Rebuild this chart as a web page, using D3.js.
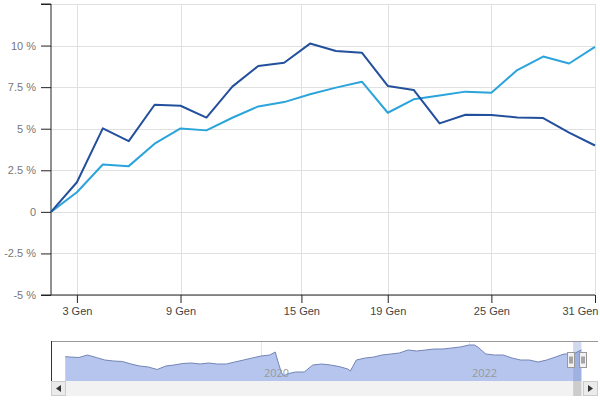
<!DOCTYPE html>
<html>
<head>
<meta charset="utf-8">
<script src="https://cdn.jsdelivr.net/npm/d3@7"></script>
<style>
  body { margin: 0; background: #fff; }
  svg { font-family: "Open Sans", "DejaVu Sans", sans-serif; }
</style>
</head>
<body>
<div class="container"></div>
<script>
const WIDTH = 600;
const HEIGHT = 400;

// trading days, January 2023
var days = ["2023-01-02", "2023-01-03", "2023-01-04", "2023-01-05", "2023-01-06",
  "2023-01-09", "2023-01-10", "2023-01-11", "2023-01-12", "2023-01-13",
  "2023-01-16", "2023-01-17", "2023-01-18", "2023-01-19", "2023-01-20",
  "2023-01-23", "2023-01-24", "2023-01-25", "2023-01-26", "2023-01-27",
  "2023-01-30", "2023-01-31"];
var darkSeries = [0, 1.78, 5.02, 4.25, 6.44, 6.38, 5.67, 7.53, 8.77, 8.97,
  10.12, 9.67, 9.57, 7.57, 7.33, 5.32, 5.84, 5.82, 5.68, 5.64, 4.76, 3.99];
var lightSeries = [0, 1.18, 2.85, 2.75, 4.1, 5.02, 4.9, 5.66, 6.34, 6.6,
  7.07, 7.47, 7.83, 5.96, 6.77, 7.0, 7.23, 7.17, 8.53, 9.34, 8.92, 9.92];
var xTicks = ["2023-01-03", "2023-01-09", "2023-01-15", "2023-01-19", "2023-01-25", "2023-01-31"];
var yTicks = [-5, -2.5, 0, 2.5, 5, 7.5, 10, 12.5];

// navigator history
var navDates = ["2018-02-12", "2018-03-01", "2018-04-01", "2018-05-01", "2018-06-01",
  "2018-07-01", "2018-08-01", "2018-09-01", "2018-10-01", "2018-11-01", "2018-12-01",
  "2019-01-01", "2019-02-01", "2019-03-01", "2019-04-01", "2019-05-01", "2019-06-01",
  "2019-07-01", "2019-08-01", "2019-09-01", "2019-10-01", "2019-11-01", "2019-12-01",
  "2020-01-01", "2020-02-01", "2020-02-20", "2020-03-01", "2020-03-12", "2020-03-20",
  "2020-04-01", "2020-05-01", "2020-06-01", "2020-07-01", "2020-08-01", "2020-09-01",
  "2020-10-01", "2020-11-01", "2020-11-10", "2020-12-01", "2021-01-01", "2021-02-01",
  "2021-03-01", "2021-04-01", "2021-05-01", "2021-06-01", "2021-07-01", "2021-08-01",
  "2021-09-01", "2021-10-01", "2021-11-01", "2021-12-01", "2022-01-01", "2022-01-20",
  "2022-02-01", "2022-03-01", "2022-04-01", "2022-05-01", "2022-06-01", "2022-07-01",
  "2022-08-01", "2022-09-01", "2022-10-01", "2022-11-01", "2022-12-01", "2023-01-02",
  "2023-01-31"];
var navValues = [24.3, 24, 23.5, 26, 23.5, 21, 20, 19.5, 17, 15, 14,
  11.5, 15, 16, 17.5, 18, 17, 18, 17, 17, 19, 21, 23,
  25, 26, 29, 19, 9, 5, 7, 9, 9, 16, 17, 16,
  14.5, 12, 10, 21, 23, 24, 26, 27, 28, 31, 30, 31,
  32, 32, 33, 34, 36, 36, 34, 27, 26, 26, 23, 21,
  21, 19, 21, 24, 27, 27, 31];
var navYears = ["2020-01-01", "2022-01-01"];

var parse = d3.timeParse("%Y-%m-%d");
var itFormat = d3.timeFormatLocale({
  dateTime: "%A %e %B %Y, %X", date: "%d/%m/%Y", time: "%H:%M:%S",
  periods: ["AM", "PM"],
  days: ["Domenica", "Lunedì", "Martedì", "Mercoledì", "Giovedì", "Venerdì", "Sabato"],
  shortDays: ["Dom", "Lun", "Mar", "Mer", "Gio", "Ven", "Sab"],
  months: ["Gennaio", "Febbraio", "Marzo", "Aprile", "Maggio", "Giugno", "Luglio",
    "Agosto", "Settembre", "Ottobre", "Novembre", "Dicembre"],
  shortMonths: ["Gen", "Feb", "Mar", "Apr", "Mag", "Giu", "Lug", "Ago", "Set", "Ott", "Nov", "Dic"]
}).format("%-d %b");

var translate = function(x, y) {
  return `translate(${x},${y})`;
};

var svg = d3.select('.container').append('svg')
  .attr('width', WIDTH)
  .attr('height', HEIGHT);

// ---- main chart ----
var plotLeft = 51, plotRight = 595, plotTop = 4, plotBottom = 295;
var step = (plotRight - plotLeft) / (days.length - 1);

// ordinal-style time axis: each trading day gets an equal slot
var xScale = d3.scaleTime()
  .domain(days.map(parse))
  .range(days.map((d, i) => plotLeft + i * step))
  .clamp(true);
var yScale = d3.scaleLinear().domain([-5, 12.5]).range([plotBottom, plotTop]);

var grid = svg.append('g').attr('stroke', '#e0e0e0').attr('stroke-width', 1);
grid.selectAll('.hg').data(yTicks).enter().append('line')
  .attr('x1', plotLeft).attr('x2', plotRight)
  .attr('y1', d => Math.round(yScale(d)) + 0.5).attr('y2', d => Math.round(yScale(d)) + 0.5);
grid.selectAll('.vg').data(xTicks).enter().append('line')
  .attr('x1', d => Math.round(xScale(parse(d))) + 0.5).attr('x2', d => Math.round(xScale(parse(d))) + 0.5)
  .attr('y1', plotTop).attr('y2', plotBottom);

var yAxis = d3.axisLeft(yScale).tickValues(yTicks).tickSize(10).tickPadding(4)
  .tickFormat(d => d === 12.5 ? "" : (d === 0 ? "0" : String(d) + " %"));
var yg = svg.append('g').attr('transform', translate(plotLeft, 0)).call(yAxis);
yg.select('.domain').attr('stroke', '#222').attr('d', `M-10,${plotTop}H0V${plotBottom}`);
yg.selectAll('.tick line').attr('stroke', '#222');
yg.selectAll('.tick text').attr('fill', '#777').attr('font-size', 11).attr('dx', -1);

var xAxis = d3.axisBottom(xScale).tickValues(xTicks.map(parse)).tickSize(8).tickPadding(4)
  .tickFormat(itFormat);
var xg = svg.append('g').attr('transform', translate(0, plotBottom)).call(xAxis);
xg.select('.domain').attr('stroke', '#222').attr('d', `M${plotLeft - 10},0H${plotRight}`);
xg.selectAll('.tick line').attr('stroke', '#222');
xg.selectAll('.tick text').attr('fill', '#444').attr('font-size', 11);
xg.selectAll('.tick').filter((d, i) => i === xTicks.length - 1).select('text').attr('text-anchor', 'end').attr('dx', 3);

var line = function(values) {
  return d3.line()
    .x((d, i) => xScale(parse(days[i])))
    .y(d => yScale(d))(values);
};
svg.append('path').attr('d', line(lightSeries))
  .attr('fill', 'none').attr('stroke', '#2ba4db').attr('stroke-width', 2).attr('stroke-linejoin', 'round');
svg.append('path').attr('d', line(darkSeries))
  .attr('fill', 'none').attr('stroke', '#23509c').attr('stroke-width', 2).attr('stroke-linejoin', 'round');

// ---- navigator ----
var nTop = 341, nBottom = 381, nLeft = 51, nRight = 598;
var nx = d3.scaleTime()
  .domain([parse("2020-01-01"), parse("2022-01-01")])
  .range([261, 469]);
var ny = d3.scaleLinear().domain([0, 40]).range([nBottom, nTop]);

var nav = svg.append('g');
nav.selectAll('.ng').data(navYears).enter().append('line')
  .attr('x1', d => Math.round(nx(parse(d))) + 0.5).attr('x2', d => Math.round(nx(parse(d))) + 0.5)
  .attr('y1', nTop).attr('y2', nBottom).attr('stroke', '#e6e6e6');

var area = d3.area()
  .x((d, i) => nx(parse(navDates[i])))
  .y0(nBottom)
  .y1(d => ny(d));
nav.append('path').attr('d', area(navValues)).attr('fill', '#b6c5ee');
nav.append('path').attr('d', d3.line().x((d, i) => nx(parse(navDates[i]))).y(d => ny(d))(navValues))
  .attr('fill', 'none').attr('stroke', '#7385b5').attr('stroke-width', 1);

nav.selectAll('.nl').data(navYears).enter().append('text')
  .attr('x', d => nx(parse(d)) + 3).attr('y', 377)
  .attr('fill', '#999').attr('font-size', 11)
  .text(d => d.slice(0, 4));

// selected range
var selStart = nx(parse(days[0])), selEnd = nx(parse(days[days.length - 1]));
nav.append('rect').attr('x', selStart).attr('y', nTop).attr('width', selEnd - selStart).attr('height', nBottom - nTop)
  .attr('fill', 'rgba(102,133,194,0.3)');
nav.append('path').attr('d', `M${nLeft + 0.5},${nBottom}V${nTop + 0.5}H${nRight}`)
  .attr('fill', 'none').attr('stroke', '#999');
nav.append('line').attr('x1', nLeft + 0.5).attr('x2', nLeft + 0.5).attr('y1', nTop).attr('y2', nBottom)
  .attr('stroke', '#333');

[selStart - 2, selEnd + 2].forEach(function(cx) {
  var h = nav.append('g').attr('transform', translate(Math.round(cx) - 3.5, 352.5));
  h.append('rect').attr('width', 7).attr('height', 15).attr('fill', '#f2f2f2').attr('stroke', '#999');
  h.append('path').attr('d', 'M2.5,4V11M4.5,4V11').attr('stroke', '#333').attr('stroke-width', 0.8);
});

// scrollbar
var sTop = 381, sH = 15;
nav.append('rect').attr('x', nLeft).attr('y', sTop).attr('width', nRight - nLeft).attr('height', sH)
  .attr('fill', '#f2f2f2');
nav.append('rect').attr('x', selStart).attr('y', sTop).attr('width', selEnd - selStart).attr('height', sH)
  .attr('fill', '#cccccc');
[[nLeft, 'M61,385L56,388.5L61,392Z'], [nRight - 15, 'M588,385L593,388.5L588,392Z']].forEach(function(b) {
  nav.append('rect').attr('x', b[0] + 0.5).attr('y', sTop + 0.5).attr('width', 14).attr('height', sH - 1)
    .attr('fill', '#ebebeb').attr('stroke', '#ccc');
  nav.append('path').attr('d', b[1]).attr('fill', '#333');
});
</script>
</body>
</html>
